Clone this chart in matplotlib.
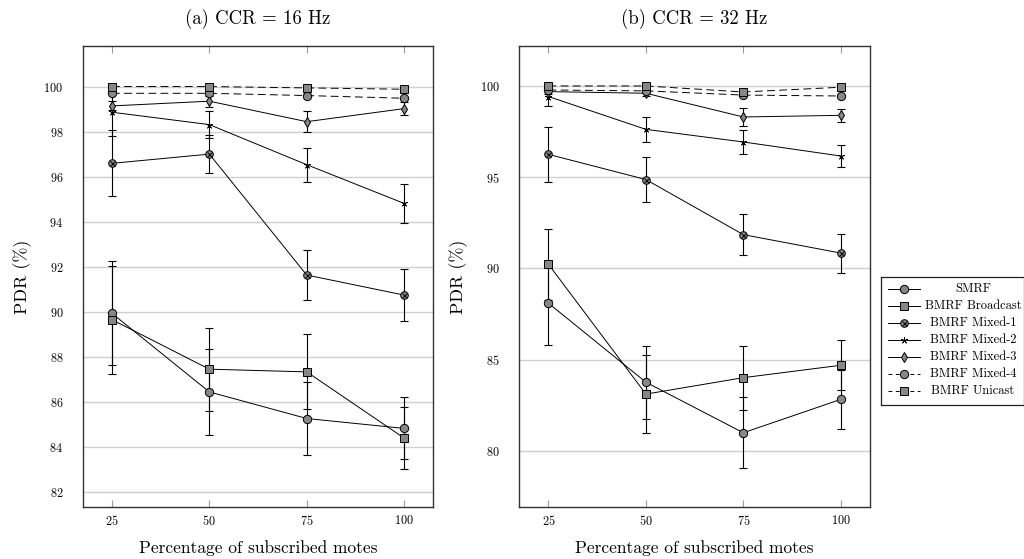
import matplotlib
matplotlib.use('Agg')
import matplotlib.pyplot as plt
from matplotlib.lines import Line2D

# --- Données ---
subscribed = [25, 50, 75, 100]

# CCR = 16 Hz
smrf_16 = [89.93, 86.44, 85.26, 84.82]
smrf_16_err = [2.31, 1.90, 1.60, 1.38]
bcast_16 = [89.65, 87.45, 87.33, 84.39]
bcast_16_err = [2.40, 1.84, 1.67, 1.38]
mixed1_16 = [96.59, 97.00, 91.63, 90.74]
mixed1_16_err = [1.47, 0.85, 1.09, 1.17]
mixed2_16 = [98.86, 98.31, 96.53, 94.81]
mixed2_16_err = [1.07, 0.60, 0.75, 0.88]
mixed3_16 = [99.14, 99.35, 98.44, 99.02]
mixed3_16_err = [0.20, 0.25, 0.47, 0.30]
mixed4_16 = [99.70, 99.70, 99.60, 99.48]
mixed4_16_err = [0.05, 0.05, 0.05, 0.05]
unicast_16 = [100.0, 100.0, 99.94, 99.88]
unicast_16_err = [0.02, 0.02, 0.03, 0.03]

# CCR = 32 Hz
smrf_32 = [88.09, 83.76, 80.99, 82.82]
smrf_32_err = [2.30, 2.00, 1.95, 1.62]
bcast_32 = [90.22, 83.11, 84.01, 84.69]
bcast_32_err = [1.96, 2.12, 1.75, 1.38]
mixed1_32 = [96.25, 94.87, 91.85, 90.84]
mixed1_32_err = [1.50, 1.23, 1.13, 1.07]
mixed2_32 = [99.42, 97.62, 96.93, 96.16]
mixed2_32_err = [0.52, 0.70, 0.67, 0.62]
mixed3_32 = [99.69, 99.60, 98.30, 98.39]
mixed3_32_err = [0.15, 0.15, 0.50, 0.35]
mixed4_32 = [99.78, 99.73, 99.50, 99.45]
mixed4_32_err = [0.05, 0.05, 0.05, 0.05]
unicast_32 = [100.0, 100.0, 99.67, 99.93]
unicast_32_err = [0.02, 0.02, 0.05, 0.03]

labels = ['SMRF', 'BMRF Broadcast', 'BMRF Mixed-1', 'BMRF Mixed-2',
          'BMRF Mixed-3', 'BMRF Mixed-4', 'BMRF Unicast']

GRAY = '#878787'
DASH = (0, (8, 4.5))

# style de chaque série : (marqueur, taille, remplissage, style de ligne, surcouche x)
styles = [
    ('o', 6.0, GRAY, '-', False),
    ('s', 5.8, GRAY, '-', False),
    ('o', 5.5, GRAY, '-', True),
    ((5, 2, 0), 5.0, 'black', '-', False),
    ('d', 5.0, GRAY, '-', False),
    ('o', 6.0, GRAY, DASH, False),
    ('s', 5.8, GRAY, DASH, False),
]

plt.rcParams['font.family'] = 'cmr10'
plt.rcParams['mathtext.fontset'] = 'cm'
plt.rcParams['axes.formatter.use_mathtext'] = True


def draw_series(ax, y, err, style):
    marker, ms, fc, ls, otimes = style
    ax.errorbar(subscribed, y, yerr=err, fmt='none', ecolor='black',
                elinewidth=0.8, capsize=3.2, capthick=0.8, zorder=3)
    ax.plot(subscribed, y, color='black', linewidth=0.7, linestyle=ls,
            marker=marker, markersize=ms, markerfacecolor=fc,
            markeredgecolor='black', markeredgewidth=0.5 if fc == 'black' else 0.7,
            zorder=4)
    if otimes:
        ax.plot(subscribed, y, linestyle='none', marker='x', markersize=3.6,
                color='black', markeredgewidth=0.7, zorder=5)


def setup_axes(ax, title, yticks, ylim):
    ax.set_xlim(17.5, 107.5)
    ax.set_ylim(*ylim)
    ax.set_xticks(subscribed)
    ax.set_yticks(yticks)
    ax.grid(axis='y', color='#cfcfcf', linewidth=1.0, zorder=0)
    ax.set_axisbelow(True)
    ax.tick_params(axis='x', direction='in', length=5, width=0.8,
                   color='#9a9a9a', top=True, labelsize=8.8, pad=5)
    ax.tick_params(axis='y', direction='in', length=0, labelsize=8.8, pad=14)
    for s in ax.spines.values():
        s.set_linewidth(1.0)
        s.set_color('#333333')
    ax.set_title(title, fontsize=13.5, pad=16)
    ax.set_xlabel('Percentage of subscribed motes', fontsize=12.5)
    ax.set_ylabel('PDR (%)', fontsize=13)
    ax.xaxis.set_label_coords(0.5, -0.072)
    ax.yaxis.set_label_coords(-0.145, 0.5)


fig = plt.figure(figsize=(10.24, 5.59), dpi=100)
ax1 = fig.add_axes([0.0808, 0.0930, 0.3424, 0.8247])
ax2 = fig.add_axes([0.5071, 0.0930, 0.3425, 0.8247])

series_16 = [(smrf_16, smrf_16_err), (bcast_16, bcast_16_err),
             (mixed1_16, mixed1_16_err), (mixed2_16, mixed2_16_err),
             (mixed3_16, mixed3_16_err), (mixed4_16, mixed4_16_err),
             (unicast_16, unicast_16_err)]
series_32 = [(smrf_32, smrf_32_err), (bcast_32, bcast_32_err),
             (mixed1_32, mixed1_32_err), (mixed2_32, mixed2_32_err),
             (mixed3_32, mixed3_32_err), (mixed4_32, mixed4_32_err),
             (unicast_32, unicast_32_err)]

for (y, e), st in zip(series_16, styles):
    draw_series(ax1, y, e, st)
for (y, e), st in zip(series_32, styles):
    draw_series(ax2, y, e, st)

setup_axes(ax1, '(a) CCR = 16 Hz', [82, 84, 86, 88, 90, 92, 94, 96, 98, 100], (81.33, 101.8))
setup_axes(ax2, '(b) CCR = 32 Hz', [80, 85, 90, 95, 100], (76.92, 102.19))

# --- Légende (libellés centrés comme dans l'original) ---
lax = fig.add_axes([881 / 1024, 1 - 405 / 559, 143 / 1024, 128 / 559])
lax.set_xlim(0, 143)
lax.set_ylim(128, 0)
lax.set_xticks([])
lax.set_yticks([])
for s in lax.spines.values():
    s.set_linewidth(0.9)
    s.set_color('#222222')

for i, (lab, st) in enumerate(zip(labels, styles)):
    marker, ms, fc, ls, otimes = st
    yy = 12.3 + i * 16.95
    lax.add_line(Line2D([7, 39], [yy, yy], color='black', linewidth=0.7,
                        linestyle=(0, (4, 3.5)) if ls != '-' else '-'))
    lax.plot([23], [yy], marker=marker, markersize=ms, markerfacecolor=fc,
             markeredgecolor='black', markeredgewidth=0.5 if fc == 'black' else 0.7,
             color='black')
    if otimes:
        lax.plot([23], [yy], marker='x', markersize=3.6, color='black',
                 markeredgewidth=0.7)
    lax.text(92, yy, lab, ha='center', va='center', fontsize=9)

fig.savefig('out.png', dpi=100)
